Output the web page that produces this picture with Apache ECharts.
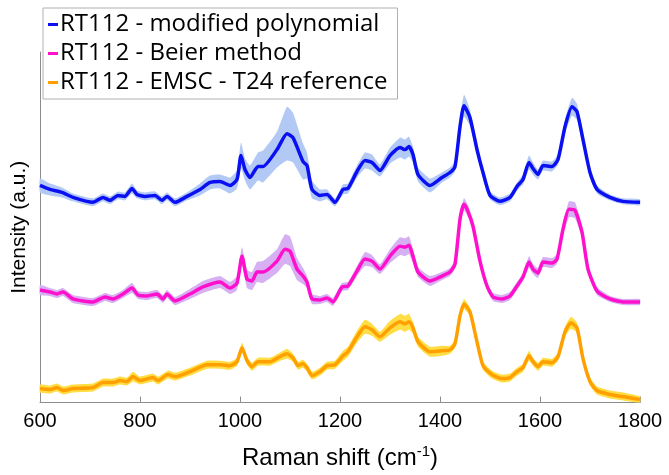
<!DOCTYPE html>
<html>
<head>
<meta charset="utf-8">
<script src="https://cdn.jsdelivr.net/npm/echarts@6/dist/echarts.min.js"></script>
<style>
  html, body { margin: 0; padding: 0; background: #fff; }
  #chart { width: 669px; height: 475px; }
</style>
</head>
<body>
<div id="chart"></div>
<script>
// Raman spectra (mean ± sd), already offset vertically as in the figure
const blueX = [600, 620, 644, 666, 706, 726, 740, 756, 770, 784, 794, 810, 830, 844, 854, 870, 894, 920, 940, 960, 980, 994, 1002, 1010, 1020, 1036, 1046, 1074, 1094, 1106, 1126, 1134, 1144, 1160, 1174, 1190, 1206, 1216, 1234, 1250, 1264, 1280, 1300, 1320, 1330, 1338, 1346, 1356, 1380, 1404, 1420, 1430, 1440, 1448, 1460, 1474, 1486, 1500, 1520, 1540, 1554, 1566, 1578, 1586, 1596, 1606, 1624, 1636, 1650, 1664, 1674, 1686, 1700, 1714, 1740, 1766, 1800];
const blueY = [218, 214, 211, 206, 201, 206, 203, 208, 207, 215, 209, 207, 208, 203, 207, 201, 207, 214, 221, 222, 218, 224, 248, 234, 226, 237, 237, 254, 270, 266, 242, 238, 214, 208, 209, 201, 214, 215, 232, 243, 241, 233, 248, 256, 254, 257, 249, 229, 218, 226, 231, 237, 277, 298, 286, 254, 231, 208, 202, 206, 217, 224, 241, 235, 229, 238, 237, 244, 277, 297, 292, 264, 231, 214, 206, 202, 201];
const blueSd = [7, 6, 5, 4, 4, 4, 4, 4, 4, 5, 4, 4, 4, 4, 4, 4, 4, 6, 7, 7, 8, 9, 13, 11, 12, 14, 16, 18, 27, 25, 18, 13, 9, 6, 5, 4, 5, 5, 6, 8, 8, 6, 8, 10, 10, 10, 8, 7, 7, 5, 5, 5, 7, 11, 8, 6, 5, 4, 4, 4, 4, 5, 7, 6, 5, 5, 5, 5, 7, 9, 8, 6, 5, 4, 3, 3, 3];

const pinkX = [600, 620, 634, 646, 666, 706, 730, 746, 766, 784, 796, 814, 834, 846, 854, 870, 900, 926, 960, 980, 994, 1004, 1014, 1024, 1034, 1046, 1074, 1090, 1100, 1114, 1126, 1134, 1144, 1160, 1174, 1186, 1204, 1216, 1234, 1250, 1264, 1280, 1300, 1320, 1330, 1338, 1346, 1356, 1380, 1404, 1420, 1430, 1440, 1448, 1456, 1466, 1480, 1494, 1506, 1524, 1540, 1554, 1566, 1578, 1586, 1596, 1606, 1624, 1634, 1646, 1658, 1670, 1684, 1696, 1714, 1740, 1766, 1800];
const pinkY = [113, 111, 109, 111, 104, 101, 106, 104, 109, 115, 108, 107, 109, 104, 109, 102, 109, 116, 121, 115, 120, 147, 124, 122, 131, 131, 142, 154, 152, 134, 127, 121, 104, 103, 105, 101, 116, 117, 132, 144, 142, 134, 147, 157, 156, 158, 147, 131, 122, 127, 131, 139, 184, 199, 192, 177, 142, 117, 106, 104, 107, 117, 126, 141, 134, 130, 141, 140, 144, 174, 194, 193, 171, 134, 112, 104, 101, 101];
const pinkSd = [5, 4, 4, 4, 4, 4, 4, 4, 4, 5, 4, 4, 4, 4, 4, 4, 5, 6, 6, 6, 7, 9, 9, 9, 10, 11, 12, 15, 15, 11, 8, 6, 5, 4, 4, 4, 4, 4, 5, 7, 6, 5, 7, 9, 9, 9, 7, 5, 5, 4, 4, 4, 5, 6, 6, 5, 4, 4, 4, 4, 4, 4, 4, 6, 5, 5, 5, 5, 5, 6, 8, 8, 6, 4, 4, 3, 3, 3];

const orangeX = [600, 620, 634, 646, 666, 706, 726, 746, 760, 774, 786, 800, 826, 836, 856, 870, 900, 934, 960, 980, 994, 1004, 1014, 1024, 1036, 1060, 1076, 1094, 1106, 1116, 1126, 1134, 1144, 1160, 1174, 1190, 1206, 1216, 1234, 1250, 1264, 1280, 1300, 1320, 1330, 1338, 1346, 1356, 1380, 1404, 1420, 1430, 1440, 1448, 1460, 1474, 1486, 1504, 1524, 1540, 1554, 1566, 1578, 1586, 1596, 1606, 1624, 1636, 1650, 1662, 1674, 1686, 1700, 1714, 1740, 1766, 1800];
const orangeY = [14, 13, 15, 12, 14, 15, 20, 20, 22, 21, 26, 22, 25, 22, 28, 26, 31, 38, 38, 37, 41, 55, 42, 36, 41, 41, 45, 49, 45, 37, 39, 35, 27, 31, 37, 38, 47, 51, 66, 76, 73, 66, 75, 81, 79, 81, 75, 61, 51, 52, 53, 59, 87, 99, 91, 61, 37, 28, 24, 25, 31, 35, 47, 41, 36, 41, 40, 46, 71, 80, 75, 44, 21, 12, 8, 6, 3];
const orangeSd = [4, 4, 4, 4, 4, 4, 4, 4, 4, 4, 5, 4, 4, 4, 4, 4, 4, 4, 4, 4, 4, 5, 4, 4, 4, 4, 4, 5, 4, 4, 4, 4, 4, 4, 4, 4, 5, 5, 6, 7, 6, 5, 7, 8, 8, 8, 6, 5, 5, 5, 4, 4, 4, 5, 4, 4, 4, 4, 4, 4, 4, 4, 5, 4, 4, 4, 4, 4, 5, 6, 5, 4, 4, 4, 4, 4, 3];

const xTicks = [600, 800, 1000, 1200, 1400, 1600, 1800];
const names = ['RT112 - modified polynomial', 'RT112 - Beier method', 'RT112 - EMSC - T24 reference'];

const spectra = [
  { name: names[0], x: blueX, y: blueY, sd: blueSd, line: '#0a10f2', band: '#b3c9f5' },
  { name: names[1], x: pinkX, y: pinkY, sd: pinkSd, line: '#ff10cc', band: '#d6b0f2' },
  { name: names[2], x: orangeX, y: orangeY, sd: orangeSd, line: '#ffa000', band: '#ffdd44' },
];

const chart = echarts.init(document.getElementById('chart'));

// shaded band (mean ± sd) drawn as one polygon, via the axis scales
const bandSeries = spectra.map((s) => ({
  type: 'custom',
  silent: true,
  z: 1,
  data: [0],
  renderItem: (params, api) => {
    const upper = s.x.map((x, k) => api.coord([x, s.y[k] + s.sd[k]]));
    const lower = s.x.map((x, k) => api.coord([x, s.y[k] - s.sd[k]])).reverse();
    return {
      type: 'polygon',
      shape: { points: upper.concat(lower), smooth: 0.15 },
      style: { fill: s.band, stroke: null },
    };
  },
}));

const lineSeries = spectra.map((s) => ({
  name: s.name,
  type: 'line', showSymbol: false, smooth: 0.2,
  lineStyle: { color: s.line, width: 3.5 },
  itemStyle: { color: s.line },
  data: s.x.map((x, k) => [x, s.y[k]]),
  z: 3,
}));

chart.setOption({
  animation: false,
  backgroundColor: '#fff',
  grid: { left: 40, right: 29, top: 52, bottom: 71 },
  legend: {
    data: names,
    orient: 'vertical',
    left: 43, top: 8,
    padding: [4, 10, 4, 5],
    backgroundColor: '#fff',
    borderColor: '#b0b0b0', borderWidth: 1,
    icon: 'rect', itemWidth: 10, itemHeight: 3, itemGap: 4,
    textStyle: { fontFamily: 'Open Sans', fontSize: 24, color: '#000', lineHeight: 25, padding: [0, 0, 0, -3] },
  },
  xAxis: {
    type: 'value', min: 600, max: 1800, interval: 200,
    name: '{a|Raman shift (cm}{s|-1}{a|)}',
    nameLocation: 'middle', nameGap: 42,
    nameTextStyle: {
      rich: {
        a: { fontFamily: 'Liberation Sans', fontSize: 24, color: '#000' },
        s: { fontFamily: 'Liberation Sans', fontSize: 15, color: '#000', padding: [0, 0, 12, 0] },
      },
    },
    axisLine: { lineStyle: { color: '#8c8c8c', width: 1 } },
    axisTick: { inside: true, length: 6, lineStyle: { color: '#8c8c8c' } },
    axisLabel: {
      fontFamily: 'Liberation Sans', fontSize: 20, color: '#000', margin: 9,
      formatter: (v) => String(v),
    },
    splitLine: { show: false },
  },
  yAxis: {
    type: 'value', min: 0, max: 352,
    name: 'Intensity (a.u.)',
    nameLocation: 'middle', nameGap: 10,
    nameTextStyle: { fontFamily: 'Liberation Sans', fontSize: 21, color: '#000' },
    axisLine: { show: true, lineStyle: { color: '#8c8c8c', width: 1 } },
    axisTick: { show: false },
    axisLabel: { show: false },
    splitLine: { show: false },
  },
  series: [...bandSeries, ...lineSeries],
});
</script>
</body>
</html>
